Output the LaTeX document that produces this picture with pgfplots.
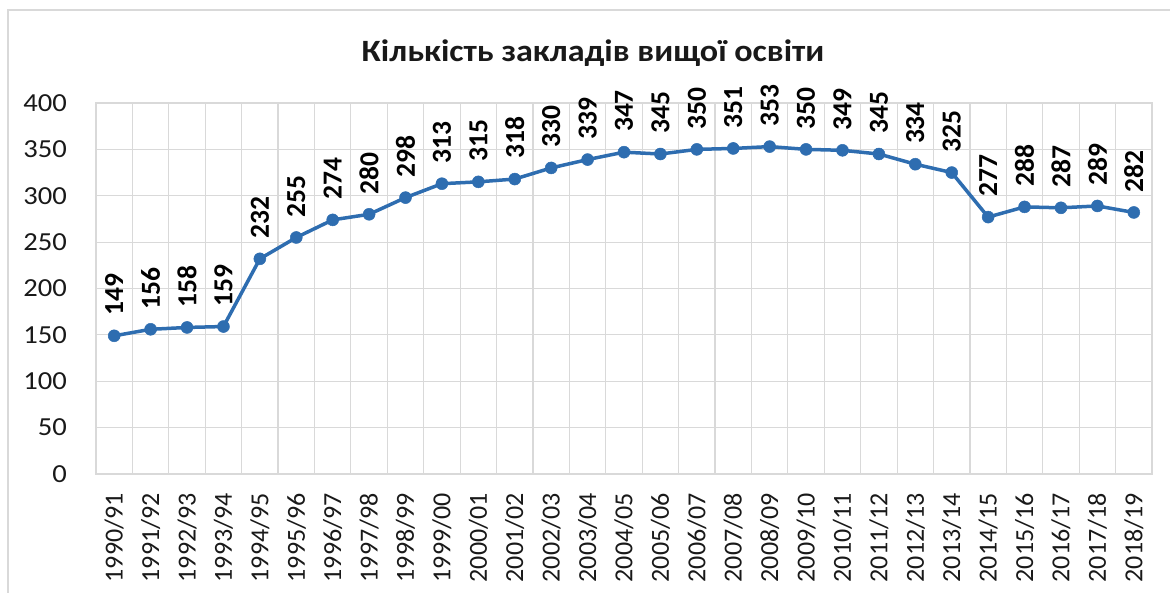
\documentclass[border=0pt]{standalone}
\usepackage{fontspec}
\setmainfont{Carlito}
\newfontfamily\widefont{Carlito}[FakeStretch=1.1]
\usepackage{pgfplots}
\pgfplotsset{compat=1.18}
\definecolor{linec}{HTML}{2E6DB0}
\definecolor{gridc}{HTML}{D9D9D9}
\begin{document}
\begin{tikzpicture}[x=1pt,y=1pt]
\useasboundingbox (0,0) rectangle (1170,592);
\draw[gridc, line width=1.5pt] (8,-5) -- (8,582) -- (1180,582);
\node[font=\widefont\fontsize{31}{36}\selectfont\bfseries, anchor=base, text=black!90] at (593,530) {Кількість закладів вищої освіти};
\begin{axis}[
  at={(96pt,118pt)}, anchor=south west,
  scale only axis, width=1056pt, height=371pt,
  xmin=-0.5, xmax=28.5, ymin=0, ymax=400,
  ytick={0,50,...,400},
  xtick={0,...,28},
  xticklabels={1990/91,1991/92,1992/93,1993/94,1994/95,1995/96,1996/97,1997/98,1998/99,1999/00,2000/01,2001/02,2002/03,2003/04,2004/05,2005/06,2006/07,2007/08,2008/09,2009/10,2010/11,2011/12,2012/13,2013/14,2014/15,2015/16,2016/17,2017/18,2018/19},
  minor x tick num=1,
  xminorgrids, ymajorgrids,
  grid style={gridc, line width=1.2pt},
  minor grid style={gridc, line width=1.2pt},
  axis line style={gridc, line width=1.2pt},
  major tick length=0pt, minor tick length=0pt,
  /pgf/number format/assume math mode=true,
  yticklabel style={font=\widefont\fontsize{26}{30}\selectfont, inner sep=0pt, anchor=east, xshift=-29pt, text=black!90},
  xticklabel style={font=\fontsize{26}{30}\selectfont, inner sep=0pt, yshift=-19pt, rotate=90, anchor=east, text=black!90},
]
\addplot[color=linec, line width=3.5pt, mark=*, mark size=6pt, mark options={solid, fill=linec, line width=0.5pt},
  nodes near coords,
  every node near coord/.append style={font=\fontsize{27.5}{32}\selectfont\bfseries, rotate=90, anchor=west, inner xsep=0pt, xshift=20pt, text=black}]
coordinates {
(0,149) (1,156) (2,158) (3,159) (4,232) (5,255) (6,274) (7,280) (8,298) (9,313)
(10,315) (11,318) (12,330) (13,339) (14,347) (15,345) (16,350) (17,351) (18,353) (19,350)
(20,349) (21,345) (22,334) (23,325) (24,277) (25,288) (26,287) (27,289) (28,282)
};
\end{axis}
\end{tikzpicture}
\end{document}
